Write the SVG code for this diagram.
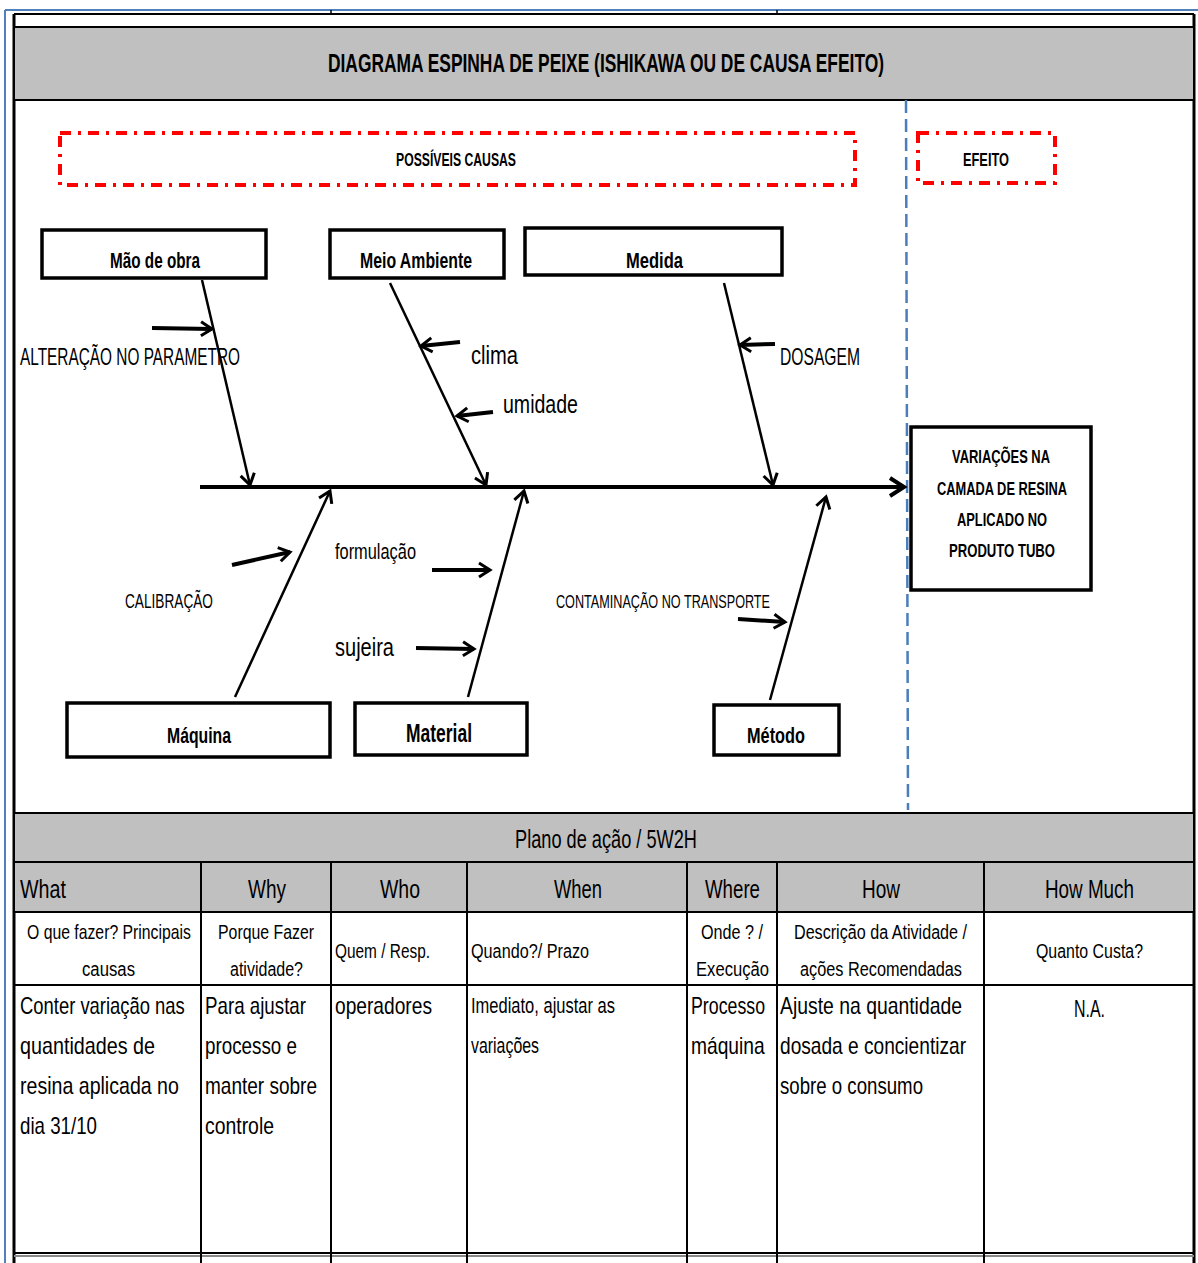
<svg xmlns="http://www.w3.org/2000/svg" width="1198" height="1263" viewBox="0 0 1198 1263">
  <style>
    text { font-family: "Liberation Sans", Arial, sans-serif; fill: #000; }
    .b { font-weight: bold; }
    .box { fill: #fff; stroke: #000; stroke-width: 3.5; }
    .grid { stroke: #000; stroke-width: 2; fill: none; }
    .band { fill: #c0c0c0; stroke: #000; stroke-width: 2; }
    .red { fill: none; stroke: #ff0000; stroke-width: 4; stroke-dasharray: 11 7 3 7; }
    .bone { stroke: #000; stroke-width: 2.5; fill: none; marker-end: url(#head); }
    .cause { stroke: #000; stroke-width: 4; fill: none; marker-end: url(#head); }
  </style>
  <defs>
    <marker id="head" markerUnits="userSpaceOnUse" markerWidth="20" markerHeight="20" refX="14" refY="10" orient="auto">
      <path d="M3,3 L14,10 L3,17" fill="none" stroke="#000" stroke-width="3"/>
    </marker>
    <marker id="bighead" markerUnits="userSpaceOnUse" markerWidth="24" markerHeight="24" refX="18" refY="12" orient="auto">
      <path d="M4,3 L18,12 L4,21" fill="none" stroke="#000" stroke-width="4"/>
    </marker>
  </defs>

  <rect x="0" y="0" width="1198" height="1263" fill="#fff"/>

  <!-- page frame -->
  <g id="frame">
    <line x1="5" y1="10" x2="1198" y2="10" stroke="#4f81bd" stroke-width="2"/>
    <line x1="5" y1="10" x2="5" y2="1263" stroke="#4f81bd" stroke-width="2"/>
    <line x1="14" y1="14" x2="1194" y2="14" stroke="#000" stroke-width="2"/>
    <line x1="331" y1="10" x2="331" y2="14" stroke="#000" stroke-width="1.5"/>
    <line x1="777" y1="10" x2="777" y2="14" stroke="#000" stroke-width="1.5"/>
    <line x1="14" y1="14" x2="14" y2="1263" stroke="#000" stroke-width="3"/>
    <line x1="1194" y1="14" x2="1194" y2="1263" stroke="#000" stroke-width="3"/>
  </g>

  <!-- title band -->
  <g id="title">
    <rect class="band" x="14" y="27" width="1180" height="73"/>
    <text class="b" x="328" y="72" font-size="25" textLength="556" lengthAdjust="spacingAndGlyphs">DIAGRAMA ESPINHA DE PEIXE (ISHIKAWA OU DE CAUSA EFEITO)</text>
  </g>

  <!-- cause / effect separator -->
  <line id="separator" x1="906" y1="100" x2="908" y2="810" stroke="#4a7ebb" stroke-width="2.5" stroke-dasharray="13 6"/>

  <g id="possiveis-causas">
    <rect class="red" x="60" y="133" width="795" height="52"/>
    <text class="b" x="396" y="166" font-size="18" textLength="120" lengthAdjust="spacingAndGlyphs">POSSÍVEIS CAUSAS</text>
  </g>
  <g id="efeito">
    <rect class="red" x="918" y="133" width="137" height="50"/>
    <text class="b" x="963" y="166" font-size="18" textLength="46" lengthAdjust="spacingAndGlyphs">EFEITO</text>
  </g>

  <!-- category boxes -->
  <g id="mao-de-obra">
    <rect class="box" x="42" y="230" width="224" height="48"/>
    <text class="b" x="110" y="268" font-size="22" textLength="90" lengthAdjust="spacingAndGlyphs">Mão de obra</text>
  </g>
  <g id="meio-ambiente">
    <rect class="box" x="330" y="230" width="174" height="48"/>
    <text class="b" x="360" y="268" font-size="22" textLength="112" lengthAdjust="spacingAndGlyphs">Meio Ambiente</text>
  </g>
  <g id="medida">
    <rect class="box" x="525" y="228" width="257" height="47"/>
    <text class="b" x="626" y="268" font-size="22" textLength="57" lengthAdjust="spacingAndGlyphs">Medida</text>
  </g>
  <g id="maquina">
    <rect class="box" x="67" y="703" width="263" height="54"/>
    <text class="b" x="167" y="743" font-size="22" textLength="64" lengthAdjust="spacingAndGlyphs">Máquina</text>
  </g>
  <g id="material">
    <rect class="box" x="355" y="703" width="172" height="52"/>
    <text class="b" x="406" y="742" font-size="25" textLength="66" lengthAdjust="spacingAndGlyphs">Material</text>
  </g>
  <g id="metodo">
    <rect class="box" x="714" y="705" width="125" height="50"/>
    <text class="b" x="747" y="743" font-size="22" textLength="58" lengthAdjust="spacingAndGlyphs">Método</text>
  </g>

  <!-- effect box -->
  <g id="efeito-box">
    <rect class="box" x="911" y="427" width="180" height="163"/>
    <text class="b" x="952" y="463" font-size="19" textLength="98" lengthAdjust="spacingAndGlyphs">VARIAÇÕES NA</text>
    <text class="b" x="937" y="495" font-size="19" textLength="130" lengthAdjust="spacingAndGlyphs">CAMADA DE RESINA</text>
    <text class="b" x="957" y="526" font-size="19" textLength="90" lengthAdjust="spacingAndGlyphs">APLICADO NO</text>
    <text class="b" x="949" y="557" font-size="19" textLength="106" lengthAdjust="spacingAndGlyphs">PRODUTO TUBO</text>
  </g>

  <!-- cause labels -->
  <g id="cause-labels">
    <text x="20" y="365" font-size="24" textLength="220" lengthAdjust="spacingAndGlyphs">ALTERAÇÃO NO PARAMETRO</text>
    <text x="471" y="364" font-size="25" textLength="47" lengthAdjust="spacingAndGlyphs">clima</text>
    <text x="503" y="413" font-size="25" textLength="75" lengthAdjust="spacingAndGlyphs">umidade</text>
    <text x="780" y="365" font-size="24" textLength="80" lengthAdjust="spacingAndGlyphs">DOSAGEM</text>
    <text x="125" y="608" font-size="20" textLength="88" lengthAdjust="spacingAndGlyphs">CALIBRAÇÃO</text>
    <text x="335" y="559" font-size="22" textLength="81" lengthAdjust="spacingAndGlyphs">formulação</text>
    <text x="335" y="656" font-size="25" textLength="59" lengthAdjust="spacingAndGlyphs">sujeira</text>
    <text x="556" y="608" font-size="19" textLength="214" lengthAdjust="spacingAndGlyphs">CONTAMINAÇÃO NO TRANSPORTE</text>
  </g>

  <!-- connectors: spine, bones and cause arrows -->
  <g id="connectors">
    <line x1="200" y1="487" x2="904" y2="487" stroke="#000" stroke-width="4" marker-end="url(#bighead)"/>
    <line class="bone" x1="202" y1="280" x2="250" y2="485"/>
    <line class="bone" x1="390" y1="283" x2="486" y2="485"/>
    <line class="bone" x1="724" y1="283" x2="773" y2="485"/>
    <line class="bone" x1="235" y1="697" x2="330" y2="491"/>
    <line class="bone" x1="468" y1="697" x2="524" y2="491"/>
    <line class="bone" x1="770" y1="700" x2="826" y2="497"/>

    <line class="cause" x1="152" y1="328" x2="212" y2="329"/>
    <line class="cause" x1="460" y1="342" x2="421" y2="346"/>
    <line class="cause" x1="493" y1="412" x2="457" y2="416"/>
    <line class="cause" x1="775" y1="344" x2="740" y2="345"/>
    <line class="cause" x1="232" y1="565" x2="290" y2="552"/>
    <line class="cause" x1="432" y1="570" x2="490" y2="570"/>
    <line class="cause" x1="416" y1="648" x2="474" y2="649"/>
    <line class="cause" x1="738" y1="619" x2="785" y2="622"/>
  </g>

  <!-- action plan (5W2H) table -->
  <g id="plano-de-acao">
    <rect class="band" x="14" y="813" width="1180" height="49"/>
    <text x="515" y="848" font-size="25" textLength="182" lengthAdjust="spacingAndGlyphs">Plano de ação / 5W2H</text>

    <rect class="band" x="14" y="862" width="1180" height="50"/>
    <line class="grid" x1="14" y1="985" x2="1194" y2="985"/>
    <line x1="14" y1="1253" x2="1194" y2="1253" stroke="#000" stroke-width="2"/>
    <line x1="14" y1="1256" x2="1194" y2="1256" stroke="#888" stroke-width="2"/>
    <g class="grid">
      <line x1="201" y1="862" x2="201" y2="1263"/>
      <line x1="331" y1="862" x2="331" y2="1263"/>
      <line x1="467" y1="862" x2="467" y2="1263"/>
      <line x1="687" y1="862" x2="687" y2="1263"/>
      <line x1="777" y1="862" x2="777" y2="1263"/>
      <line x1="984" y1="862" x2="984" y2="1263"/>
    </g>

    <g font-size="25">
      <text x="20" y="898" textLength="46" lengthAdjust="spacingAndGlyphs">What</text>
      <text x="248" y="898" textLength="38" lengthAdjust="spacingAndGlyphs">Why</text>
      <text x="380" y="898" textLength="40" lengthAdjust="spacingAndGlyphs">Who</text>
      <text x="554" y="898" textLength="48" lengthAdjust="spacingAndGlyphs">When</text>
      <text x="705" y="898" textLength="55" lengthAdjust="spacingAndGlyphs">Where</text>
      <text x="862" y="898" textLength="38" lengthAdjust="spacingAndGlyphs">How</text>
      <text x="1045" y="898" textLength="89" lengthAdjust="spacingAndGlyphs">How Much</text>
    </g>

    <g font-size="20">
      <text transform="translate(27 939) scale(0.789 1)">O que fazer? Principais</text>
      <text x="82" y="976" textLength="53" lengthAdjust="spacingAndGlyphs">causas</text>
      <text x="218" y="939" textLength="96" lengthAdjust="spacingAndGlyphs">Porque Fazer</text>
      <text x="230" y="976" textLength="73" lengthAdjust="spacingAndGlyphs">atividade?</text>
      <text x="335" y="958" textLength="95" lengthAdjust="spacingAndGlyphs">Quem / Resp.</text>
      <text x="471" y="958" textLength="118" lengthAdjust="spacingAndGlyphs">Quando?/ Prazo</text>
      <text x="701" y="939" textLength="62" lengthAdjust="spacingAndGlyphs">Onde ? /</text>
      <text x="696" y="976" textLength="73" lengthAdjust="spacingAndGlyphs">Execução</text>
      <text x="794" y="939" textLength="173" lengthAdjust="spacingAndGlyphs">Descrição da Atividade /</text>
      <text x="800" y="976" textLength="162" lengthAdjust="spacingAndGlyphs">ações Recomendadas</text>
      <text x="1036" y="958" textLength="107" lengthAdjust="spacingAndGlyphs">Quanto Custa?</text>
    </g>

    <g font-size="24">
      <text transform="translate(20 1014) scale(0.768 1)">Conter variação nas</text>
      <text x="20" y="1054" textLength="135" lengthAdjust="spacingAndGlyphs">quantidades de</text>
      <text transform="translate(20 1094) scale(0.816 1)">resina aplicada no</text>
      <text x="20" y="1134" textLength="77" lengthAdjust="spacingAndGlyphs">dia 31/10</text>

      <text x="205" y="1014" textLength="101" lengthAdjust="spacingAndGlyphs">Para ajustar</text>
      <text x="205" y="1054" textLength="92" lengthAdjust="spacingAndGlyphs">processo e</text>
      <text x="205" y="1094" textLength="112" lengthAdjust="spacingAndGlyphs">manter sobre</text>
      <text x="205" y="1134" textLength="69" lengthAdjust="spacingAndGlyphs">controle</text>

      <text x="335" y="1014" textLength="97" lengthAdjust="spacingAndGlyphs">operadores</text>

      <text transform="translate(691 1014) scale(0.74 1)">Processo</text>
      <text transform="translate(691 1054) scale(0.8 1)">máquina</text>

      <text x="780" y="1014" textLength="182" lengthAdjust="spacingAndGlyphs">Ajuste na quantidade</text>
      <text x="780" y="1054" textLength="186" lengthAdjust="spacingAndGlyphs">dosada e concientizar</text>
      <text x="780" y="1094" textLength="143" lengthAdjust="spacingAndGlyphs">sobre o consumo</text>

      <text x="1074" y="1017" textLength="31" lengthAdjust="spacingAndGlyphs">N.A.</text>
    </g>
    <g font-size="22" style="font-family: 'Liberation Serif', 'Times New Roman', serif">
      <text x="471" y="1013" textLength="144" lengthAdjust="spacingAndGlyphs">Imediato, ajustar as</text>
      <text x="471" y="1053" textLength="68" lengthAdjust="spacingAndGlyphs">variações</text>
    </g>
  </g>
</svg>
